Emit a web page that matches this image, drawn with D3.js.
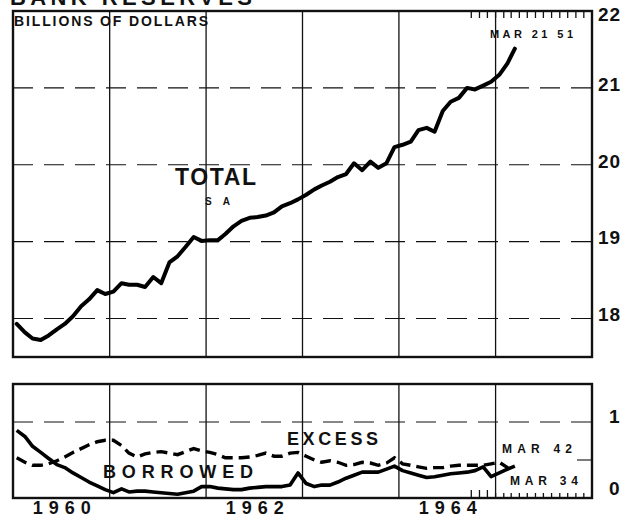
<!DOCTYPE html>
<html><head><meta charset="utf-8">
<script src="https://cdn.jsdelivr.net/npm/d3@7"></script>
<style>
html,body{margin:0;padding:0;background:#fff;}
svg{display:block;}
text{font-family:"Liberation Sans",Arial,sans-serif;font-weight:bold;fill:#111;}
</style></head>
<body>
<svg id="c" width="629" height="519"></svg>
<script>
// ---- data (monthly, Jan 1960 .. Mar 1965), billions of dollars ----
const startYear = 1960;
const total = [17.93,17.82,17.74,17.72,17.78,17.86,17.93,18.03,18.16,18.25,18.37,18.32,
  18.35,18.46,18.44,18.44,18.41,18.54,18.46,18.73,18.81,18.93,19.06,19.01,
  19.02,19.02,19.10,19.20,19.27,19.31,19.32,19.34,19.38,19.46,19.50,19.55,
  19.61,19.68,19.73,19.78,19.84,19.88,20.02,19.93,20.04,19.96,20.02,20.23,
  20.26,20.30,20.45,20.48,20.43,20.70,20.82,20.87,21.00,20.98,21.03,21.08,
  21.17,21.32,21.51];
const borrowed = [0.89,0.81,0.68,0.60,0.52,0.44,0.40,0.33,0.27,0.21,0.16,0.11,
  0.07,0.12,0.08,0.09,0.09,0.08,0.07,0.06,0.05,0.07,0.09,0.15,
  0.15,0.13,0.12,0.11,0.11,0.13,0.14,0.15,0.15,0.15,0.17,0.33,
  0.19,0.15,0.17,0.17,0.21,0.26,0.30,0.34,0.34,0.34,0.38,0.42,
  0.36,0.33,0.30,0.27,0.28,0.30,0.32,0.33,0.34,0.36,0.41,0.28,
  0.33,0.38,0.42];
const excess = [0.53,0.47,0.43,0.43,0.45,0.49,0.54,0.60,0.65,0.70,0.74,0.76,
  0.76,0.69,0.59,0.54,0.58,0.60,0.61,0.59,0.57,0.61,0.65,0.62,
  0.60,0.57,0.53,0.53,0.53,0.54,0.56,0.59,0.55,0.55,0.59,0.60,
  0.55,0.50,0.47,0.49,0.47,0.43,0.44,0.47,0.46,0.43,0.46,0.53,
  0.45,0.43,0.41,0.39,0.40,0.40,0.42,0.43,0.43,0.43,0.43,0.45,
  0.47,0.40,0.34];
const yearLabels = ["1960","1962","1964"];
const topTicks = [18,19,20,21,22];
const bottomTicks = [0,1];
const title = "BANK RESERVES";
const unitLabel = "BILLIONS OF DOLLARS";
const totalNote = "MAR  21 51";
const borrowedNote = "MAR   42";
const excessNote = "MAR    34";

// ---- scales ----
const svg = d3.select("#c");
const x = d3.scaleTime().domain([new Date(1960,0,1), new Date(1966,0,1)]).range([13, 592]);
const yTop = d3.scaleLinear().domain([17.5, 22]).range([357, 11]);
const yBot = d3.scaleLinear().domain([0, 1.5]).range([498, 384]);
const dateOf = i => new Date(startYear, i, 15);

// ---- title (cut off at top, as in the original) ----
svg.append("text").attr("x", 10).attr("y", 5).attr("font-size", 22)
  .attr("textLength", 242).attr("lengthAdjust", "spacing").text(title);

function panel(y, gridVals, extraShort) {
  const g = svg.append("g");
  const [x0, x1] = x.range();
  const [yb, yt] = y.range();
  const years = d3.timeYear.range(new Date(1961,0,1), new Date(1966,0,1));
  g.selectAll(".vg").data(years).join("line")
    .attr("x1", d => x(d)).attr("x2", d => x(d)).attr("y1", yt).attr("y2", yb)
    .attr("stroke", "#111").attr("stroke-width", 1.3);
  g.selectAll(".hg").data(gridVals).join("line")
    .attr("x1", x0).attr("x2", x1).attr("y1", d => y(d)).attr("y2", d => y(d))
    .attr("stroke", "#111").attr("stroke-width", 1.1).attr("stroke-dasharray", "20,11");
  if (extraShort) {
    g.append("line").attr("x1", x1 - 15).attr("x2", x1)
      .attr("y1", y(extraShort)).attr("y2", y(extraShort))
      .attr("stroke", "#111").attr("stroke-width", 1.1);
  }
  g.append("rect").attr("x", x0).attr("y", yt).attr("width", x1 - x0).attr("height", yb - yt)
    .attr("fill", "none").attr("stroke", "#111").attr("stroke-width", 2.4);
  return g;
}

// ---- top panel ----
panel(yTop, [18, 19, 20, 21], null);
const months = d3.timeMonth.range(new Date(1964,9,1), new Date(1966,0,1));
svg.append("g").selectAll("line").data(months).join("line")
  .attr("x1", d => x(d)).attr("x2", d => x(d)).attr("y1", yTop(22)).attr("y2", yTop(22) + 7)
  .attr("stroke", "#111").attr("stroke-width", 1.3);

const lineTop = d3.line().x((d, i) => x(dateOf(i))).y(d => yTop(d));
svg.append("path").datum(total).attr("d", lineTop).attr("fill", "none")
  .attr("stroke", "#000").attr("stroke-width", 4).attr("stroke-linejoin", "round").attr("stroke-linecap", "round");

svg.append("g").attr("transform", `translate(${x.range()[1]},0)`)
  .call(d3.axisRight(yTop).tickValues(topTicks).tickSize(0).tickPadding(6).tickFormat(d3.format("d")))
  .call(g => g.select(".domain").remove())
  .call(g => g.selectAll("text").attr("font-size", 19).attr("font-family", "Liberation Sans, Arial, sans-serif")
     .attr("font-weight", "bold").attr("fill", "#111").attr("letter-spacing", 1)
     .attr("dy", d => d === 22 ? "0.5em" : "0.12em"));

svg.append("text").attr("x", 14).attr("y", 26).attr("font-size", 14)
  .attr("textLength", 194).attr("lengthAdjust", "spacing").text(unitLabel);
svg.append("text").attr("x", 490).attr("y", 38).attr("font-size", 11)
  .attr("textLength", 83).attr("lengthAdjust", "spacing").text(totalNote);
svg.append("text").attr("x", 175).attr("y", 185).attr("font-size", 23)
  .attr("textLength", 81).attr("lengthAdjust", "spacing").text("TOTAL");
svg.append("text").attr("x", 205).attr("y", 205).attr("font-size", 10)
  .attr("textLength", 25).attr("lengthAdjust", "spacing").text("S A");

// ---- bottom panel ----
panel(yBot, [1], 0.5);
const y0 = yBot(0);
svg.append("g").selectAll("line").data(months).join("line")
  .attr("x1", d => x(d)).attr("x2", d => x(d)).attr("y1", y0)
  .attr("y2", d => y0 - (d < new Date(1965,0,1) ? 8 : 5))
  .attr("stroke", "#111").attr("stroke-width", 1.3);

const lineBot = d3.line().x((d, i) => x(dateOf(i))).y(d => yBot(d));
svg.append("path").datum(excess).attr("d", lineBot).attr("fill", "none")
  .attr("stroke", "#000").attr("stroke-width", 3.4).attr("stroke-dasharray", "11,6");
svg.append("path").datum(borrowed).attr("d", lineBot).attr("fill", "none")
  .attr("stroke", "#000").attr("stroke-width", 3.6).attr("stroke-linejoin", "round");

svg.append("g").attr("transform", `translate(${x.range()[1]},0)`)
  .call(d3.axisRight(yBot).tickValues(bottomTicks).tickSize(0).tickPadding(17).tickFormat(d3.format("d")))
  .call(g => g.select(".domain").remove())
  .call(g => g.selectAll("text").attr("font-size", 19).attr("font-family", "Liberation Sans, Arial, sans-serif")
     .attr("font-weight", "bold").attr("fill", "#111").attr("dy", d => d === 0 ? "-0.2em" : "0.05em"));

svg.append("text").attr("x", 287).attr("y", 445).attr("font-size", 18)
  .attr("textLength", 91).attr("lengthAdjust", "spacing").text("EXCESS");
svg.append("text").attr("x", 103).attr("y", 478).attr("font-size", 18)
  .attr("textLength", 150).attr("lengthAdjust", "spacing").text("BORROWED");
svg.append("text").attr("x", 502).attr("y", 453).attr("font-size", 12)
  .attr("textLength", 70).attr("lengthAdjust", "spacing").text(borrowedNote);
svg.append("text").attr("x", 510).attr("y", 485).attr("font-size", 12)
  .attr("textLength", 68).attr("lengthAdjust", "spacing").text(excessNote);

// ---- x axis year labels ----
const yearAxis = d3.axisBottom(x)
  .tickValues(yearLabels.map(s => new Date(+s, 6, 2)))
  .tickSize(0).tickPadding(0).tickFormat(d3.timeFormat("%Y"));
svg.append("g").attr("transform", "translate(0,501)").call(yearAxis)
  .call(g => g.select(".domain").remove())
  .call(g => g.selectAll("text").attr("font-size", 18).attr("font-family", "Liberation Sans, Arial, sans-serif")
     .attr("font-weight", "bold").attr("fill", "#111").attr("letter-spacing", 6).attr("dx", 3));
</script>
</body></html>
